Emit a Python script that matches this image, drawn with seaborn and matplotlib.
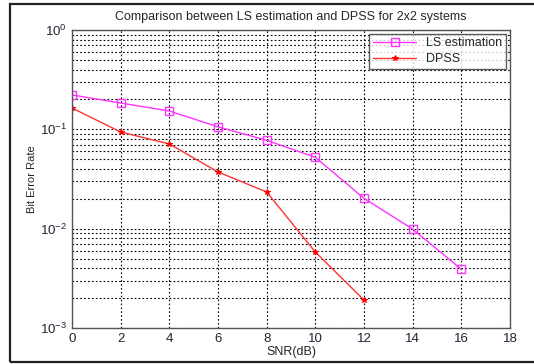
import matplotlib
matplotlib.use("Agg")
from matplotlib import pyplot as plt
from matplotlib import patches
import seaborn as sns
import pandas as pd
import numpy as np

snr = [0, 2, 4, 6, 8, 10, 12, 14, 16]
ls_ber = [0.222, 0.184, 0.153, 0.106, 0.0776, 0.0523, 0.0202, 0.0099, 0.0039]
snr_dpss = [0, 2, 4, 6, 8, 10, 12]
dpss_ber = [0.164, 0.094, 0.0713, 0.0372, 0.0234, 0.00582, 0.00191]
x_ticks = [0, 2, 4, 6, 8, 10, 12, 14, 16, 18]

sns.set_style("white")
plt.rcParams['font.family'] = ['Liberation Sans', 'DejaVu Sans']

df_ls = pd.DataFrame({"snr": snr, "ber": ls_ber})
df_dp = pd.DataFrame({"snr": snr_dpss, "ber": dpss_ber})

fig = plt.figure(figsize=(5.34, 3.64), dpi=100)
fig.patch.set_facecolor('white')
ax = fig.add_axes([72/534, 36/364, 438/534, 298/364])

sns.lineplot(data=df_ls, x="snr", y="ber", ax=ax, color='#ff33ff', lw=1.0,
             marker='s', markersize=6, markerfacecolor='none',
             markeredgecolor='#ff33ff', markeredgewidth=1.0, label='LS estimation')
sns.lineplot(data=df_dp, x="snr", y="ber", ax=ax, color='#ff3333', lw=1.0,
             marker='*', markersize=4, markerfacecolor='#ff0000',
             markeredgecolor='#ff0000', label='DPSS')

ax.set_yscale('log')
ax.set_xlim(0, 18)
ax.set_ylim(1e-3, 1)
ax.set_xticks(x_ticks)
ax.set_xticklabels([str(t) for t in x_ticks], fontsize=9.5)
ax.tick_params(axis='both', which='both', direction='in', labelsize=9.5, colors='#222233')
ax.tick_params(axis='y', which='minor', length=0)
ax.grid(True, which='major', axis='both', color='black', linestyle=(0, (1.5, 2)), lw=0.8)
ax.grid(True, which='minor', axis='y', color='black', linestyle=(0, (1.5, 2)), lw=0.8)
for s in ax.spines.values():
    s.set_color('#555555')
    s.set_linewidth(1.0)

ax.set_title('Comparison between LS estimation and DPSS for 2x2 systems', fontsize=9, pad=7)
ax.set_xlabel('SNR(dB)', fontsize=9, labelpad=1)
ax.set_ylabel('Bit Error Rate', fontsize=8, labelpad=2)

leg = ax.legend(loc='upper right', fontsize=9, frameon=True, fancybox=False,
                borderaxespad=0.3, handlelength=3.5, borderpad=0.3, labelspacing=0.3)
leg.get_frame().set_edgecolor('#333333')
leg.get_frame().set_linewidth(1.0)

# outer frame around the picture
fig.add_artist(patches.Rectangle((10/534, 2/364), 600/534, 358/364, transform=fig.transFigure,
                                 fill=False, edgecolor='#222222', lw=1.6))

fig.savefig('out.png', dpi=100)
